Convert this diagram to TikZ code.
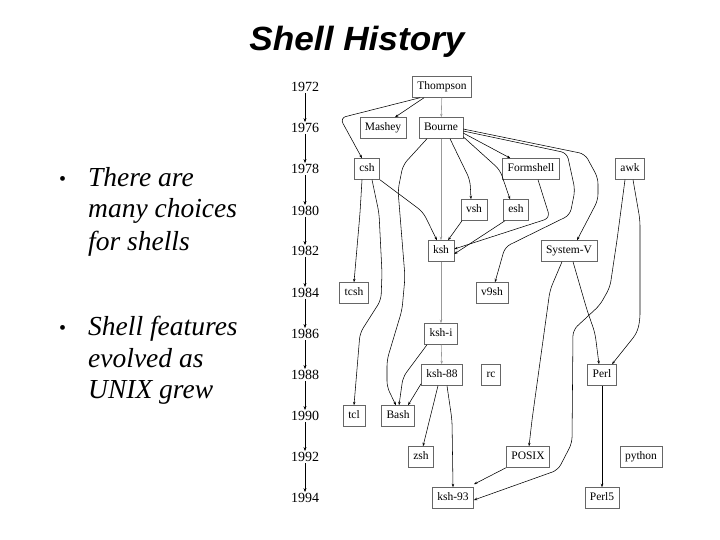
\documentclass[tikz,border=0pt]{standalone}
\usepackage{fontspec}
\setmainfont{Liberation Serif}
\newfontfamily\titlefont{Liberation Sans}
\usetikzlibrary{arrows.meta}
\begin{document}
\begin{tikzpicture}[x=1pt,y=-1pt,
  yr/.style={font=\fontsize{14}{14}\selectfont, inner sep=1pt},
  sh/.style={draw=black!60, line width=0.5pt, font=\fontsize{11.5}{12}\selectfont, minimum height=21pt, text height=8pt, text depth=2.5pt, inner xsep=5pt, inner ysep=2pt},
  conn/.style={draw=black, line width=0.55pt, rounded corners=6pt, -{Stealth[length=3.5pt,width=2.5pt]}},
  gconn/.style={draw=black!40, line width=0.6pt, -{Stealth[length=3.5pt,width=2.5pt]}},
  yarr/.style={draw=black, line width=0.5pt, -{Stealth[length=4pt,width=3pt]}},
  btxt/.style={anchor=base west, inner sep=0pt, font=\fontsize{27.5}{27.5}\selectfont\itshape}]
\useasboundingbox (0,0) rectangle (720,540);
% title
\node[inner sep=0pt, anchor=base] (title) at (357,51) {\scalebox{1.1}[1.05]{\titlefont\fontsize{32}{32}\selectfont\bfseries\itshape Shell History}};
% bullets
\node[btxt] (b1) at (59,186) {\fontsize{20}{20}\selectfont\upshape\textbullet};
\node[btxt] (t1a) at (88,187) {There are};
\node[btxt] (t1b) at (88,218) {many choices};
\node[btxt] (t1c) at (88,250) {for shells};
\node[btxt] (b2) at (59,334) {\fontsize{20}{20}\selectfont\upshape\textbullet};
\node[btxt] (t2a) at (88,335) {Shell features};
\node[btxt] (t2b) at (88,367) {evolved as};
\node[btxt] (t2c) at (88,398) {UNIX grew};
% years
\foreach \yy/\py in {1972/87,1976/128,1978/169,1980/211,1982/251,1984/293,1986/334,1988/375,1990/416,1992/457,1994/498}
  \node[yr] (y\yy) at (305,\py) {\yy};
\foreach \a/\b in {1972/1976,1976/1978,1978/1980,1980/1982,1982/1984,1984/1986,1986/1988,1988/1990,1990/1992,1992/1994}
  \draw[yarr] (y\a.south) -- (y\b.north);
% shells
\node[sh] (thompson) at (442,87) {Thompson};
\node[sh] (mashey) at (383,128) {Mashey};
\node[sh] (bourne) at (441,128) {Bourne};
\node[sh] (csh) at (367,169) {csh};
\node[sh] (formshell) at (531,169) {Formshell};
\node[sh] (awk) at (630,169) {awk};
\node[sh] (vsh) at (474,210) {vsh};
\node[sh] (esh) at (516,210) {esh};
\node[sh] (ksh) at (441,251) {ksh};
\node[sh] (sysv) at (569,251) {System-V};
\node[sh] (tcsh) at (354,293) {tcsh};
\node[sh] (v9sh) at (492,293) {v9sh};
\node[sh] (kshi) at (441,334) {ksh-i};
\node[sh] (ksh88) at (442,375) {ksh-88};
\node[sh] (rc) at (491,375) {rc};
\node[sh] (perl) at (602,375) {Perl};
\node[sh] (tcl) at (354,416) {tcl};
\node[sh] (bash) at (398,416) {Bash};
\node[sh] (zsh) at (421,457) {zsh};
\node[sh] (posix) at (528,457) {POSIX};
\node[sh] (python) at (641,457) {python};
\node[sh] (ksh93) at (453,498) {ksh-93};
\node[sh] (perl5) at (602,498) {Perl5};
% gray main line
\draw[gconn] (thompson) -- (bourne);
\draw[gconn] (bourne) -- (ksh);
\draw[gconn] (ksh) -- (kshi);
\draw[gconn] (kshi) -- (ksh88);
% connectors
\draw[conn] ([xshift=-18pt]thompson.south) -- ([xshift=12pt]mashey.north);
\draw[conn] ([xshift=-22pt]thompson.south) -- (340,118) -- ([xshift=-5pt]csh.north);
\draw[conn] ([yshift=-5pt]bourne.east) -- ([xshift=8pt]formshell.north west);
\draw[conn] ([xshift=9pt]bourne.south) -- (470,180) -- ([xshift=-3pt]vsh.north);
\draw[conn] ([yshift=2pt]bourne.south east) -- (500,170) -- ([xshift=-6pt]esh.north);
\draw[conn] ([yshift=-3pt]bourne.east) -- (567,153) -- (575,190) -- (570,215) -- (505,247) -- ([xshift=3pt]v9sh.north);
\draw[conn] ([yshift=-1pt]bourne.east) -- (585,154) -- (598,178) -- (598,200) -- ([xshift=8pt]sysv.north);
\draw[conn] ([xshift=-14pt]bourne.south) -- (403,165) -- (398,190) -- (405,277) -- (402,310) -- (387,360) -- (387,387) -- ([xshift=-2pt]bash.north);
\draw[conn] ([xshift=-5pt]csh.south) -- (360,213) -- (tcsh.north);
\draw[conn] ([xshift=5pt]csh.south) -- (379,213) -- (382,273) -- (381,300) -- (360,333) -- (tcl.north);
\draw[conn] (csh.south east) -- (423,212) -- ([xshift=-4pt]ksh.north);
\draw[conn] ([xshift=-12pt]vsh.south) -- ([xshift=7pt]ksh.north);
\draw[conn] ([xshift=-11pt]esh.south) -- ([yshift=-3pt]ksh.east);
\draw[conn] ([xshift=7pt]formshell.south) -- (550,218) -- ([yshift=2pt]ksh.east);
\draw[conn] ([xshift=-7pt]sysv.south) -- (550,290) -- (532,420) -- ([xshift=1pt]posix.north);
\draw[conn] ([xshift=4pt]sysv.south) -- (587,310) -- (595,333) -- ([xshift=-3pt]perl.north);
\draw[conn] ([xshift=3pt]awk.south) -- (640,220) -- (640,320) -- (637,333) -- ([xshift=10pt]perl.north);
\draw[conn] ([xshift=-5pt]awk.south) -- (617,240) -- (610,287) -- (600,305) -- (573,330) -- (572,443) -- (558,470) -- ([yshift=-2pt]ksh93.east);
\draw[conn] ([xshift=-22pt]posix.south) -- ([yshift=3pt]ksh93.north east);
\draw[conn] ([xshift=-14pt]kshi.south) -- (403,377) -- ([xshift=1pt]bash.north);
\draw[conn] ([yshift=2pt]ksh88.south west) -- ([xshift=10pt]bash.north);
\draw[conn] ([xshift=-4pt]ksh88.south) -- ([xshift=2pt]zsh.north);
\draw[conn] ([xshift=5pt]ksh88.south) -- (452,420) -- (ksh93.north);
\draw[conn] (perl) -- (perl5);
\end{tikzpicture}
\end{document}
